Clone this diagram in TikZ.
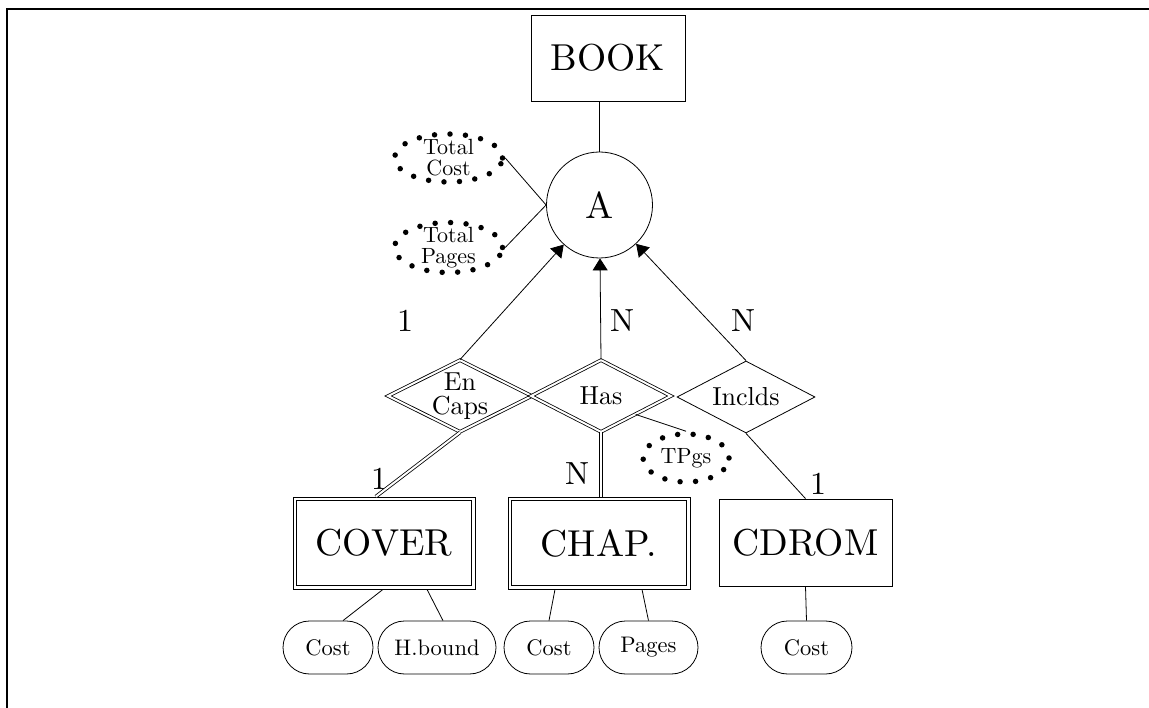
\documentclass[tikz,border=0pt]{standalone}
\usepackage{fontspec}
\setmainfont{lmroman10-regular.otf}
\usetikzlibrary{shapes.geometric,shapes.misc,arrows.meta,calc}
\begin{document}
\begin{tikzpicture}[x=1pt,y=-1pt,line width=0.8pt,
  big/.style={font=\fontsize{37.5}{40}\selectfont},
  lab/.style={font=\fontsize{32}{34}\selectfont},
  dtext/.style={font=\fontsize{26}{24}\selectfont,align=center,inner sep=0pt},
  atext/.style={font=\fontsize{22}{21}\selectfont,align=center,inner sep=0pt},
  ent/.style={draw,rectangle,inner sep=0pt,big},
  rel/.style={draw,diamond,inner sep=0pt},
  dotted ell/.style={draw,ellipse,dash pattern=on 0pt off 15.5pt,line cap=round,line width=5.5pt,inner sep=0pt},
  attr/.style={draw,rounded rectangle,inner sep=0pt,minimum height=53pt,font=\fontsize{22.5}{22}\selectfont},
  arr/.style={-{Triangle[length=12pt,width=15pt]}},
  dbl/.style={double,double distance=2pt}]
\useasboundingbox (0,0) rectangle (1149,708);
\draw[line width=2pt] (7,708) -- (7,9) -- (1149,9);

% entities
\node[ent,minimum width=154,minimum height=86] (book) at (608,58) {BOOK};
\node[circle,draw,minimum size=106,inner sep=0pt,big] (A) at (599.5,205) {A};
\node[ent,minimum width=182,minimum height=92] (cover) at (384,543) {COVER};
\draw ([shift={(4pt,-4pt)}]cover.north west) rectangle ([shift={(-4pt,4pt)}]cover.south east);
\node[ent,minimum width=182,minimum height=92] (chap) at (599,543) {CHAP.};
\draw ([shift={(4pt,-4pt)}]chap.north west) rectangle ([shift={(-4pt,4pt)}]chap.south east);
\node[ent,minimum width=173,minimum height=87] (cdrom) at (805.5,542.5) {CDROM};

% derived attributes
\node[dotted ell,minimum width=108,minimum height=48] (tc) at (448.5,158) {};
\node[atext] (tctext) at (tc) {Total\\Cost};
\node[dotted ell,minimum width=108,minimum height=50] (tp) at (448.5,247.5) {};
\node[atext] (tptext) at (tp) {Total\\Pages};
\node[dotted ell,minimum width=86,minimum height=48] (tpg) at (686,458) {};
\node[atext] (tpgtext) at (tpg) {TPgs};

% relationships
\node[rel,dbl,minimum width=144,minimum height=72] (ec) at (460,396) {};
\node[dtext] (ectext) at (ec) {En\\Caps};
\node[rel,dbl,minimum width=140,minimum height=72] (has) at (601,396) {};
\node[dtext] (hastext) at (has) {Has};
\node[rel,minimum width=138,minimum height=72] (inc) at (746,397) {};
\node[dtext] (inctext) at (inc) {Inclds};

% attributes
\node[attr,minimum width=90] (c1) at (328,647.5) {Cost};
\node[attr,minimum width=118] (hb) at (437,647.5) {H.bound};
\node[attr,minimum width=90] (c2) at (549,647.5) {Cost};
\node[attr,minimum width=99] (pg) at (648.5,647.5) {Pages};
\node[attr,minimum width=91] (c3) at (806.5,647.5) {Cost};

% cardinality labels
\node[lab] (l1) at (405,321) {1};
\node[lab] (n1) at (622,321) {N};
\node[lab] (n2) at (743,321) {N};
\node[lab] (l2) at (379,479) {1};
\node[lab] (n3) at (577,474) {N};
\node[lab] (l3) at (818,484) {1};

% connectors
\draw (book.south -| A.north) -- (A.north);
\draw (tc.east) -- (A.west);
\draw (tp.east) -- (A.west);
\draw[arr] (ec.north) -- (A);
\draw[arr] (has.north) -- (A);
\draw[arr] (inc.north) -- (A);
\draw[dbl] (ec.south) -- (cover.100);
\draw[dbl] (has.south) -- (has.south |- chap.north);
\draw (inc.south) -- (cdrom.north);
\draw (has.-28) -- (tpg.north);
\draw ([xshift=-1pt]cover.south) -- ([xshift=15pt]c1.north);
\draw ([xshift=43pt]cover.south) -- ([xshift=6pt]hb.north);
\draw ([xshift=-44pt]chap.south) -- (c2.north);
\draw ([xshift=43pt]chap.south) -- (pg.north);
\draw (cdrom.south) -- (c3.north);
\end{tikzpicture}
\end{document}
